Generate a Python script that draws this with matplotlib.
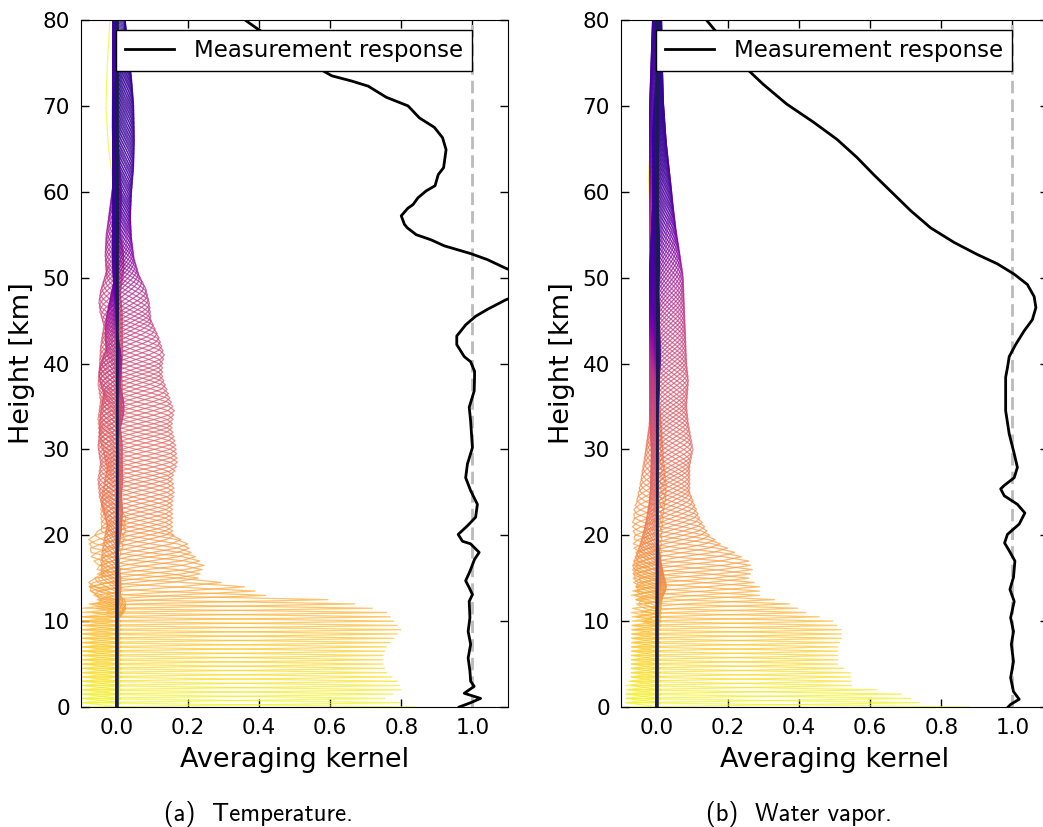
import numpy as np
import matplotlib
matplotlib.use("Agg")
import matplotlib.pyplot as plt

# retrieval grid [km]
grid = np.arange(0, 80.01, 0.5)

# temperature kernels: peak value, negative side-lobe extent and width vs height
temp_peak_z = [0, 1, 2, 3, 4, 5, 6, 7, 8, 9, 10, 11, 11.5, 12, 12.8, 13, 14, 15,
               16.5, 18, 19, 20.1, 22.1, 23.6, 25.2, 26.7, 28.3, 30.6, 32.6, 34.5,
               36.8, 38.4, 40, 41, 43, 45, 47, 48.5, 50, 52, 54.5, 57, 60, 63, 66,
               70, 73, 76, 80]
temp_peak = [0.84, 0.755, 0.80, 0.79, 0.76, 0.75, 0.75, 0.76, 0.78, 0.80, 0.78,
             0.76, 0.72, 0.67, 0.55, 0.42, 0.36, 0.23, 0.247, 0.21, 0.20, 0.158,
             0.158, 0.158, 0.163, 0.158, 0.172, 0.167, 0.156, 0.163, 0.144, 0.13,
             0.13, 0.135, 0.12, 0.098, 0.093, 0.084, 0.065, 0.05, 0.042, 0.039,
             0.042, 0.048, 0.05, 0.048, 0.042, 0.033, 0.023]
temp_neg_z = [0, 11.5, 12, 13, 14, 15, 16, 17, 18, 20, 22, 24.5, 26, 28, 30, 32,
              34, 36, 38, 40.5, 42, 43, 44, 46, 48, 50, 55, 60, 80]
temp_neg = [0.10, 0.10, 0.08, 0.08, 0.056, 0.067, 0.08, 0.08, 0.046, 0.046, 0.04,
            0.028, 0.037, 0.05, 0.054, 0.047, 0.054, 0.05, 0.047, 0.037, 0.048,
            0.051, 0.047, 0.03, 0.033, 0.03, 0.008, 0.012, 0.01]
temp_width_z = [0, 11, 12.5, 14, 16, 20, 30, 40, 50, 60, 80]
temp_width = [0.31, 0.31, 0.5, 0.9, 1.4, 1.9, 2.2, 2.4, 3.0, 4.5, 6.5]
# upper-altitude tail of the lowest kernel
temp_tail_z = [55, 57, 59.3, 62.4, 65.1, 69.8, 74.9, 80]
temp_tail = [0, -0.002, -0.005, -0.014, -0.023, -0.03, -0.026, -0.019]

# water vapour kernels
wv_peak_z = [0, 0.5, 1.5, 2.5, 4, 5, 7, 8, 9, 10, 11, 12, 13, 14, 15, 16, 17, 18,
             19, 20, 22, 25, 28, 30, 33, 35, 38, 40, 45, 50, 53, 55, 58, 60, 65,
             70, 75, 80]
wv_peak = [0.88, 0.74, 0.69, 0.55, 0.545, 0.51, 0.51, 0.52, 0.52, 0.496, 0.42,
           0.375, 0.29, 0.29, 0.26, 0.27, 0.26, 0.22, 0.18, 0.15, 0.122, 0.094,
           0.094, 0.103, 0.09, 0.085, 0.09, 0.085, 0.08, 0.075, 0.064, 0.056,
           0.047, 0.042, 0.028, 0.019, 0.016, 0.014]
wv_neg_z = [0, 2, 3, 10, 12, 13, 15, 17, 19, 20, 22, 25, 28, 30, 35, 40, 50, 60,
            70, 80]
wv_neg = [0.09, 0.09, 0.075, 0.075, 0.075, 0.065, 0.062, 0.068, 0.07, 0.065, 0.05,
          0.034, 0.022, 0.018, 0.015, 0.02, 0.02, 0.02, 0.01, 0.01]
wv_width_z = [0, 10, 13, 16, 20, 25, 30, 40, 50, 60, 80]
wv_width = [0.31, 0.33, 0.7, 1.1, 1.8, 2.6, 2.9, 3.5, 4.5, 6.0, 8.0]
wv_tail_z = [52, 56, 58, 62, 66.7, 69, 72]
wv_tail = [0, -0.012, -0.019, -0.023, -0.014, -0.005, 0]

# measurement response (row sums)
temp_resp_z = [80.5, 79.0, 74.6, 73.5, 72.9, 72.3, 71.0, 70.0, 68.6, 67.5, 66.3,
               64.9, 62.8, 62.0, 60.7, 60.1, 59.3, 58.5, 58.1, 57.2, 56.2, 55.8,
               55.0, 54.4, 53.7, 52.8, 52.1, 51.1, 50.0, 48.5, 47.4, 46.3, 45.5,
               44.5, 43.2, 42.2, 40.8, 40.2, 39.1, 38.4, 36.8, 34.9, 33.3, 30.2,
               28.3, 26.7, 25.2, 23.6, 22.1, 21.1, 20.1, 19.3, 19.0, 18.0, 17.2,
               15.8, 14.7, 13.9, 13.1, 12.3, 10.4, 8.8, 7.3, 5.7, 4.2, 3.0, 2.4,
               1.6, 1.0, 0.5, 0.0]
temp_resp = [0.344, 0.395, 0.558, 0.605, 0.66, 0.707, 0.758, 0.819, 0.851, 0.893,
             0.916, 0.926, 0.919, 0.904, 0.895, 0.870, 0.847, 0.833, 0.819, 0.80,
             0.809, 0.817, 0.842, 0.884, 0.921, 0.995, 1.042, 1.093, 1.16, 1.16,
             1.093, 1.042, 1.009, 0.981, 0.956, 0.956, 0.977, 0.995, 1.006, 1.006,
             1.005, 0.991, 0.995, 1.0, 0.986, 0.981, 0.995, 1.014, 1.009, 0.986,
             0.96, 0.972, 0.995, 1.019, 1.006, 0.993, 0.981, 0.991, 1.0, 0.991,
             0.993, 0.988, 0.995, 0.988, 0.993, 0.995, 1.005, 0.977, 1.023, 0.995,
             0.963]
wv_resp_z = [80.5, 79.0, 74.3, 72.5, 70.2, 68.1, 66.1, 64.0, 62.0, 60.1, 57.8,
             55.8, 54.1, 52.7, 51.6, 50.4, 49.2, 47.8, 46.5, 45.1, 43.8, 42.2,
             40.8, 39.5, 38.4, 34.5, 31.8, 29.5, 27.9, 26.7, 25.8, 25.4, 24.6,
             23.6, 22.6, 21.3, 20.1, 19.1, 18.2, 17.0, 15.1, 13.7, 12.3, 10.4,
             8.8, 7.3, 5.3, 3.4, 1.8, 0.9, 0.3, 0.0]
wv_resp = [0.13, 0.16, 0.254, 0.30, 0.366, 0.441, 0.507, 0.563, 0.61, 0.657,
           0.714, 0.77, 0.836, 0.901, 0.958, 1.005, 1.042, 1.061, 1.066, 1.056,
           1.033, 1.009, 0.991, 0.986, 0.981, 0.981, 0.991, 1.005, 1.014, 1.005,
           0.977, 0.967, 0.977, 1.014, 1.035, 1.019, 0.986, 0.978, 0.991, 1.007,
           1.003, 0.993, 1.005, 0.995, 1.003, 0.997, 1.003, 0.995, 1.003, 1.019,
           0.995, 0.988]

# colour position in plasma for each kernel height
color_z = [0, 10, 20, 30, 40, 48, 55, 60, 70, 80]
color_pos = [1.0, 0.84, 0.74, 0.62, 0.52, 0.42, 0.22, 0.12, 0.08, 0.06]


def kernel_rows(peak_z, peak, neg_z, neg, width_z, width, tail_z, tail):
    # one averaging kernel per grid level: main lobe with negative side lobes
    a = np.interp(grid, peak_z, peak)
    r = np.interp(grid, neg_z, neg) / a
    w = np.interp(grid, width_z, width)
    u = (grid[None, :] - grid[:, None]) / w[:, None]
    bump = lambda c: np.exp(-2 * (u - c) ** 2)
    r = r[:, None]
    shape = bump(0) - r * (bump(1.6) + bump(-1.6)) + r ** 2 * (bump(3.2) + bump(-3.2))
    rows = a[:, None] * shape
    rows[0] += np.interp(grid, tail_z, tail, left=0, right=tail[-1])
    return rows


def draw_panel(ax, rows, resp_x, resp_z, caption_x, caption):
    cmap = plt.cm.plasma
    cpos = np.interp(grid, color_z, color_pos)
    for i in range(len(grid)):
        ax.plot(rows[i], grid, color=cmap(cpos[i]), lw=0.9, alpha=0.72)
    ax.axvline(0, color="#13233f", lw=1.8)
    ax.axvline(1, color="#bbbbbb", lw=2, ls=(0, (4.5, 2.2)))
    ax.plot(resp_x, resp_z, color="black", lw=2, label="Measurement response")
    ax.set_xlim(-0.1, 1.1)
    ax.set_ylim(0, 80)
    ax.set_xticks(np.arange(0, 1.01, 0.2))
    ax.set_yticks(np.arange(0, 81, 10))
    ax.tick_params(direction="in", top=True, right=True, length=6, width=1,
                   labelsize=15.5, pad=8)
    ax.set_xlabel("Averaging kernel", fontsize=19.5)
    ax.set_ylabel("Height [km]", fontsize=19.5)
    ax.xaxis.set_label_coords(0.5, -0.058)
    ax.yaxis.set_label_coords(-0.107, 0.5)
    leg = ax.legend(loc="upper right", bbox_to_anchor=(0.9167, 0.9854),
                    borderaxespad=0, fontsize=16.5, fancybox=False,
                    framealpha=1, edgecolor="black", borderpad=0.4,
                    handlelength=2.1, handletextpad=0.9)
    leg.get_frame().set_linewidth(1.0)
    fig.text(caption_x / 1043, 1 - 814 / 827, caption, ha="center", va="center",
             family="cmss10", fontsize=18)


fig = plt.figure(figsize=(10.43, 8.27), dpi=100)
ax1 = fig.add_axes([81 / 1043, 1 - 707 / 827, 427 / 1043, 687 / 827])
ax2 = fig.add_axes([621 / 1043, 1 - 707 / 827, 427 / 1043, 687 / 827])

temp_rows = kernel_rows(temp_peak_z, temp_peak, temp_neg_z, temp_neg,
                        temp_width_z, temp_width, temp_tail_z, temp_tail)
wv_rows = kernel_rows(wv_peak_z, wv_peak, wv_neg_z, wv_neg, wv_width_z, wv_width,
                      wv_tail_z, wv_tail)

draw_panel(ax1, temp_rows, temp_resp, temp_resp_z, 259, "(a)  Temperature.")
draw_panel(ax2, wv_rows, wv_resp, wv_resp_z, 799, "(b)  Water vapor.")

fig.savefig("out.png", dpi=100)
